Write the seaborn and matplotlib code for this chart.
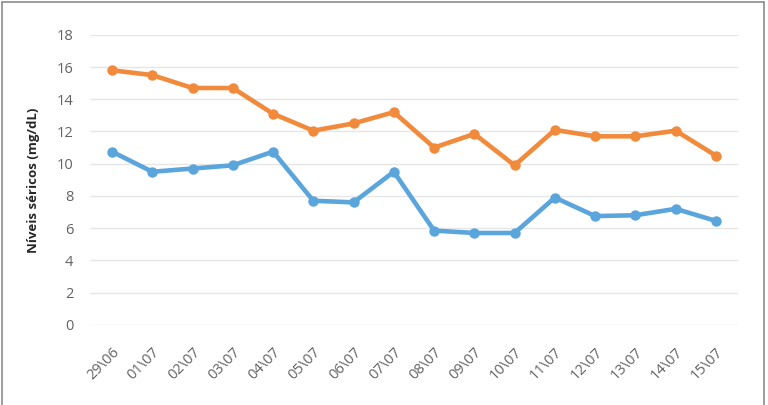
import pandas as pd
import numpy as np
import matplotlib
matplotlib.use("Agg")
import matplotlib.pyplot as plt
import seaborn as sns
from matplotlib.lines import Line2D

## dados
datas = ["29\\06", "01\\07", "02\\07", "03\\07", "04\\07", "05\\07", "06\\07", "07\\07",
         "08\\07", "09\\07", "10\\07", "11\\07", "12\\07", "13\\07", "14\\07", "15\\07"]
serie_laranja = [15.8, 15.5, 14.7, 14.7, 13.1, 12.05, 12.5, 13.2,
                 11.0, 11.85, 9.9, 12.1, 11.7, 11.7, 12.05, 10.5]
serie_azul = [10.75, 9.5, 9.7, 9.9, 10.75, 7.7, 7.6, 9.5,
              5.85, 5.7, 5.7, 7.9, 6.75, 6.8, 7.2, 6.45]

df = pd.DataFrame({"data": datas * 2,
                   "valor": serie_laranja + serie_azul,
                   "serie": ["laranja"] * len(datas) + ["azul"] * len(datas)})
df["pos"] = list(range(len(datas))) * 2

sns.set_style("white")
plt.rcParams['font.family'] = ['Open Sans', 'DejaVu Sans']

fig = plt.figure(figsize=(7.68, 4.05), dpi=100)
ax = fig.add_axes([0.117, 0.198, 0.844, 0.716])

cores = {"laranja": "#F28A3C", "azul": "#5AA5DC"}
sns.lineplot(data=df, x="pos", y="valor", hue="serie", palette=cores,
             marker="o", markersize=7.5, markeredgewidth=0, linewidth=3.3,
             legend=False, ax=ax)

ax.set_ylim(0, 18)
ax.set_yticks(np.arange(0, 19, 2))
ax.set_xlim(-0.55, len(datas) - 0.45)
ax.set_xticks(range(len(datas)))
ax.set_xticklabels(datas, rotation=45, ha="right", rotation_mode="anchor")
ax.tick_params(axis="both", colors="#636363", labelsize=10.5, length=0)
ax.tick_params(axis="y", pad=12)
ax.tick_params(axis="x", pad=14)
ax.yaxis.grid(True, color="#E6E6E6", linewidth=1)
ax.set_axisbelow(True)
for s in ax.spines.values():
    s.set_visible(False)

ax.set_xlabel("")
ax.set_ylabel("Níveis séricos (mg/dL)", fontsize=9.5, fontweight="bold", color="#262626", labelpad=12)

## moldura
for xs, ys in [([0.003, 0.003], [0, 0.995]), ([0.003, 0.995], [0.995, 0.995]), ([0.995, 0.995], [0, 0.995])]:
    fig.add_artist(Line2D(xs, ys, transform=fig.transFigure, color="#8C8C8C", linewidth=1.2))

fig.savefig("out.png", dpi=100)
